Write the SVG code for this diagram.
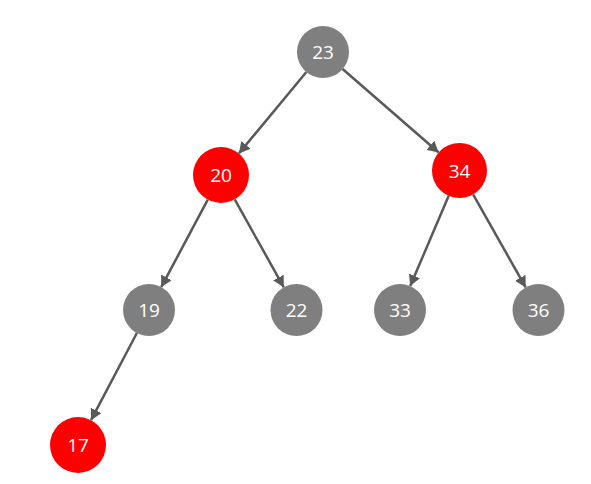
<svg xmlns="http://www.w3.org/2000/svg" width="591" height="484" viewBox="0 0 591 484">
<defs>
<style>
.gray{fill:#7f7f7f}
.red{fill:#ff0000}
text{font-family:"Open Sans","Liberation Sans",sans-serif;font-size:19px;fill:#ffffff;text-anchor:middle;dominant-baseline:central}
.edge{stroke:#595959;stroke-width:2.5;fill:none;marker-end:url(#arrow)}
</style>
<marker id="arrow" markerUnits="userSpaceOnUse" markerWidth="12" markerHeight="12" refX="11" refY="6" orient="auto">
<path d="M0,0 L11,6 L0,12 z" fill="#595959"/>
</marker>
</defs>
<rect width="591" height="484" fill="#ffffff"/>
<g id="connectors">
<line class="edge" x1="306.4" y1="72" x2="238.9" y2="153.4"/>
<line class="edge" x1="342.6" y1="69" x2="438.7" y2="152.5"/>
<line class="edge" x1="207.8" y1="199.7" x2="161.2" y2="287.1"/>
<line class="edge" x1="234.7" y1="199.4" x2="283.8" y2="287.3"/>
<line class="edge" x1="448.7" y1="195.8" x2="410.2" y2="286.1"/>
<line class="edge" x1="473.1" y1="194.4" x2="525.7" y2="287.4"/>
<line class="edge" x1="136.9" y1="333" x2="91" y2="420.2"/>
</g>
<g id="n23"><circle class="gray" cx="323" cy="52" r="26"/><text x="323" y="52">23</text></g>
<g id="n20"><circle class="red" cx="221" cy="175" r="28"/><text x="221" y="175">20</text></g>
<g id="n34"><circle class="red" cx="459.5" cy="170.5" r="27.5"/><text x="459.5" y="170.5">34</text></g>
<g id="n19"><circle class="gray" cx="149" cy="310" r="26"/><text x="149" y="310">19</text></g>
<g id="n22"><circle class="gray" cx="296.5" cy="310" r="26"/><text x="296.5" y="310">22</text></g>
<g id="n33"><circle class="gray" cx="400" cy="310" r="26"/><text x="400" y="310">33</text></g>
<g id="n36"><circle class="gray" cx="538.5" cy="310" r="26"/><text x="538.5" y="310">36</text></g>
<g id="n17"><circle class="red" cx="78" cy="445" r="28"/><text x="78" y="445">17</text></g>
</svg>
